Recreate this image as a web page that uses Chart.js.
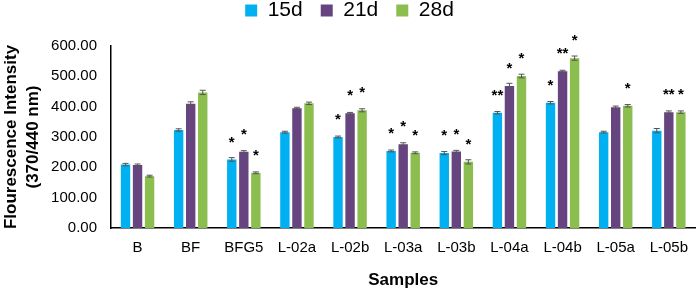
<!DOCTYPE html>
<html>
<head>
<meta charset="utf-8">
<script src="https://cdn.jsdelivr.net/npm/chart.js@4.4.1/dist/chart.umd.min.js"></script>
<style>
  html, body { margin: 0; padding: 0; background: #fff; }
</style>
</head>
<body>
<canvas id="fluor" width="699" height="295"></canvas>
<script>
const categories = ['B', 'BF', 'BFG5', 'L-02a', 'L-02b', 'L-03a', 'L-03b', 'L-04a', 'L-04b', 'L-05a', 'L-05b'];
const d15 = [209, 323, 226, 316, 300, 254, 247, 380, 413, 316, 321];
const d21 = [208, 410, 251, 395, 378, 276, 252, 468, 517, 398, 382];
const d28 = [171, 447, 182, 411, 388, 248, 218, 501, 560, 403, 382];
// error bar half-heights
const e15 = [4, 4, 6, 3, 3, 3, 5, 4, 4, 3, 7];
const e21 = [3, 6, 4, 3, 3, 5, 4, 9, 3, 4, 4];
const e28 = [3, 7, 3, 4, 5, 3, 7, 6, 7, 4, 4];
// significance marks
const s15 = ['', '', '*', '', '*', '*', '*', '**', '*', '', ''];
const s21 = ['', '', '*', '', '*', '*', '*', '*', '**', '', '**'];
const s28 = ['', '', '*', '', '*', '*', '*', '*', '*', '*', '*'];
const yTicks = [0, 100, 200, 300, 400, 500, 600];

const errs = [e15, e21, e28];
const stars = [s15, s21, s28];
const FONT = '"Liberation Sans", Arial, sans-serif';

// errors bars + stars drawn on top of the bars
const marksPlugin = {
    id: 'marks',
    afterDatasetsDraw(chart) {
        const ctx = chart.ctx;
        const y = chart.scales.y;
        chart.data.datasets.forEach((ds, i) => {
            const meta = chart.getDatasetMeta(i);
            meta.data.forEach((bar, j) => {
                const v = ds.data[j];
                const top = y.getPixelForValue(v + errs[i][j]);
                const bot = y.getPixelForValue(v - errs[i][j]);
                ctx.save();
                ctx.strokeStyle = '#555';
                ctx.lineWidth = 1;
                ctx.beginPath();
                ctx.moveTo(bar.x, top); ctx.lineTo(bar.x, bot);
                ctx.moveTo(bar.x - 3, top); ctx.lineTo(bar.x + 3, top);
                ctx.moveTo(bar.x - 3, bot); ctx.lineTo(bar.x + 3, bot);
                ctx.stroke();
                if (stars[i][j]) {
                    ctx.fillStyle = '#000';
                    ctx.font = 'bold 15px ' + FONT;
                    ctx.textAlign = 'center';
                    ctx.textBaseline = 'middle';
                    ctx.fillText(stars[i][j], bar.x, y.getPixelForValue(v) - 17);
                }
                ctx.restore();
            });
        });
    }
};

// pin the legend height so the plot starts where the original does
const legendHeight = {
    id: 'legendHeight',
    beforeInit(chart) {
        const fit = chart.legend.fit;
        chart.legend.fit = function () {
            fit.bind(chart.legend)();
            this.height = 64;
        };
    }
};

const ctxBar = document.getElementById('fluor');
const chart = new Chart(ctxBar, {
    type: 'bar',
    data: {
        labels: categories,
        datasets: [
            { label: '15d', data: d15, backgroundColor: '#00b0f0' },
            { label: '21d', data: d21, backgroundColor: '#66447f' },
            { label: '28d', data: d28, backgroundColor: '#8cbd4f' }
        ]
    },
    options: {
        responsive: false,
        animation: false,
        layout: { padding: { top: -18, left: 0, right: 0, bottom: 0 } },
        datasets: {
            bar: { categoryPercentage: 0.68, barPercentage: 0.78 }
        },
        plugins: {
            legend: {
                position: 'top',
                align: 'center',
                labels: {
                    boxWidth: 12,
                    boxHeight: 12,
                    padding: 18,
                    color: '#000',
                    font: { family: FONT, size: 21 }
                }
            },
            tooltip: { enabled: false }
        },
        scales: {
            x: {
                grid: { display: false, drawTicks: false },
                border: { color: '#000', width: 1.5 },
                ticks: {
                    color: '#000',
                    padding: 11,
                    maxRotation: 0,
                    autoSkip: false,
                    font: { family: FONT, size: 15 }
                },
                title: {
                    display: true,
                    text: 'Samples',
                    color: '#000',
                    padding: { top: 24 },
                    font: { family: FONT, size: 17, weight: 'bold' }
                },
                afterFit(scale) { scale.height = 67; }
            },
            y: {
                min: 0,
                max: 600,
                grid: { display: false, drawTicks: false },
                border: { color: '#000', width: 1.5 },
                afterBuildTicks(scale) { scale.ticks = yTicks.map(v => ({ value: v })); },
                ticks: {
                    color: '#000',
                    padding: 14,
                    callback: v => Number(v).toFixed(2),
                    font: { family: FONT, size: 15 }
                },
                title: {
                    display: true,
                    text: ['Flourescence Intensity', '(370/440 nm)'],
                    color: '#000',
                    padding: { top: 0, bottom: 0 },
                    font: { family: FONT, size: 17, weight: 'bold', lineHeight: 1.3 }
                },
                afterFit(scale) { scale.width = 111; }
            }
        }
    },
    plugins: [legendHeight, marksPlugin]
});
</script>
</body>
</html>
